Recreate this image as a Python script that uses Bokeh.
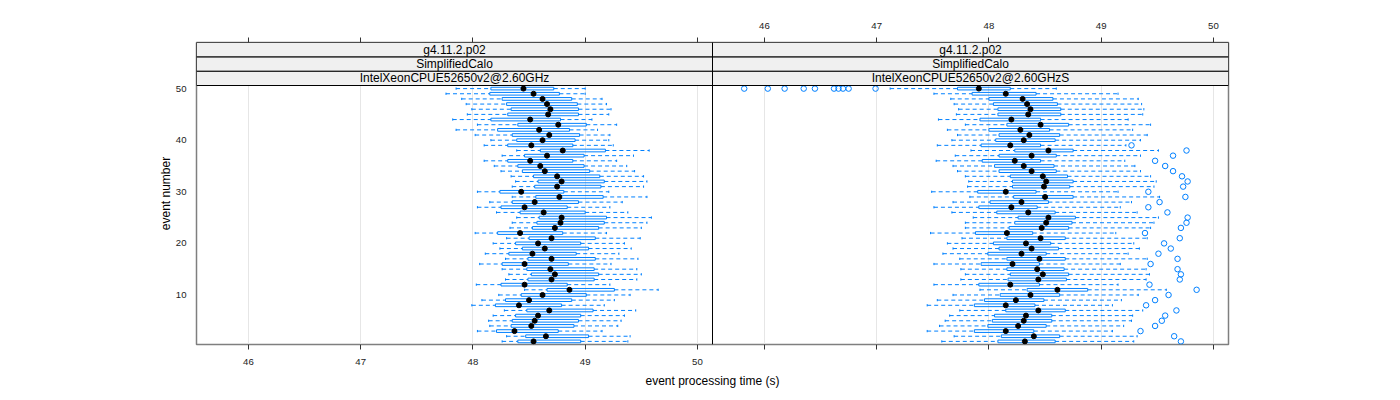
from bokeh.plotting import figure
from bokeh.models import Range1d, FixedTicker, LinearAxis, ColumnDataSource, Span, CustomJSTickFormatter
from bokeh.embed import file_html
from bokeh.resources import INLINE
from bokeh.core.properties import value

events = list(range(1, 51))
x_ticks = [46, 47, 48, 49, 50]
y_ticks = [10, 20, 30, 40, 50]
strip_top = "g4.11.2.p02"
strip_mid = "SimplifiedCalo"
panel_names = ["IntelXeonCPUE52650v2@2.60GHz", "IntelXeonCPUE52650v2@2.60GHzS"]

# ---- left panel (events 1..50) ----
L_wlo = [48.26, 48.30, 48.04, 48.15, 48.14, 48.18, 48.28, 47.99, 48.08, 48.23,
         48.46, 48.03, 48.29, 48.32, 48.26, 48.06, 48.29, 48.11, 48.24, 48.18,
         48.30, 48.02, 48.33, 48.35, 48.39, 48.21, 48.04, 48.15, 48.35, 48.04,
         48.35, 48.38, 48.34, 48.25, 48.19, 48.10, 48.26, 48.39, 48.10, 48.16,
         48.02, 47.85, 48.04, 47.82, 47.95, 47.99, 47.94, 47.90, 47.76, 47.85]
L_q1 = [48.40, 48.47, 48.21, 48.34, 48.35, 48.38, 48.48, 48.20, 48.29, 48.43,
        48.66, 48.25, 48.49, 48.52, 48.48, 48.26, 48.49, 48.32, 48.44, 48.38,
        48.50, 48.22, 48.53, 48.57, 48.59, 48.42, 48.25, 48.35, 48.56, 48.24,
        48.55, 48.58, 48.54, 48.44, 48.40, 48.31, 48.46, 48.60, 48.31, 48.39,
        48.35, 48.22, 48.40, 48.16, 48.31, 48.34, 48.30, 48.26, 48.15, 48.16]
L_med = [48.54, 48.65, 48.37, 48.52, 48.55, 48.58, 48.68, 48.41, 48.50, 48.62,
         48.86, 48.46, 48.70, 48.73, 48.69, 48.46, 48.70, 48.53, 48.64, 48.58,
         48.70, 48.42, 48.73, 48.78, 48.79, 48.63, 48.46, 48.55, 48.77, 48.43,
         48.75, 48.79, 48.75, 48.64, 48.60, 48.51, 48.66, 48.80, 48.52, 48.62,
         48.68, 48.59, 48.76, 48.51, 48.67, 48.69, 48.66, 48.62, 48.54, 48.45]
L_q3 = [48.96, 49.03, 48.76, 48.90, 48.94, 48.96, 49.07, 48.79, 48.88, 49.01,
        49.26, 48.84, 49.08, 49.12, 49.08, 48.85, 49.09, 48.92, 49.03, 48.96,
        49.09, 48.80, 49.12, 49.17, 49.19, 49.00, 48.84, 48.94, 49.16, 48.81,
        49.14, 49.17, 49.13, 49.04, 48.99, 48.89, 48.99, 49.18, 48.89, 48.91,
        48.95, 48.86, 49.01, 48.78, 48.94, 48.94, 48.93, 48.88, 48.77, 48.72]
L_whi = [49.38, 49.40, 49.15, 49.29, 49.32, 49.35, 49.45, 49.17, 49.26, 49.40,
         49.65, 49.22, 49.46, 49.50, 49.46, 49.23, 49.47, 49.30, 49.41, 49.35,
         49.49, 49.19, 49.50, 49.55, 49.59, 49.38, 49.22, 49.33, 49.55, 49.21,
         49.52, 49.55, 49.52, 49.44, 49.37, 49.28, 49.43, 49.57, 49.25, 49.21,
         49.22, 49.11, 49.28, 49.06, 49.21, 49.23, 49.19, 49.15, 49.00, 49.00]

# ---- right panel (events 1..50) ----
R_wlo = [47.58, 47.69, 47.45, 47.56, 47.61, 47.65, 47.74, 47.45, 47.54, 47.68,
         47.92, 47.51, 47.75, 47.79, 47.75, 47.51, 47.74, 47.59, 47.68, 47.63,
         47.76, 47.48, 47.79, 47.79, 47.86, 47.67, 47.51, 47.68, 47.83, 47.49,
         47.81, 47.82, 47.79, 47.72, 47.68, 47.53, 47.70, 47.84, 47.54, 47.67,
         47.72, 47.63, 47.79, 47.55, 47.71, 47.73, 47.69, 47.66, 47.51, 47.12]
R_q1 = [48.08, 48.11, 47.87, 47.99, 48.03, 48.05, 48.15, 47.87, 47.96, 48.10,
        48.34, 47.91, 48.17, 48.19, 48.16, 47.93, 48.16, 47.99, 48.09, 48.04,
        48.16, 47.88, 48.18, 48.23, 48.26, 48.07, 47.91, 48.01, 48.22, 47.90,
        48.21, 48.21, 48.19, 48.09, 48.05, 47.94, 48.09, 48.23, 47.93, 48.06,
        48.09, 48.00, 48.16, 47.92, 48.08, 48.08, 48.04, 48.00, 47.85, 47.72]
R_med = [48.32, 48.40, 48.15, 48.26, 48.31, 48.33, 48.44, 48.15, 48.24, 48.37,
         48.61, 48.19, 48.44, 48.48, 48.43, 48.21, 48.45, 48.29, 48.38, 48.33,
         48.46, 48.16, 48.47, 48.51, 48.53, 48.35, 48.20, 48.29, 48.50, 48.15,
         48.49, 48.51, 48.48, 48.38, 48.31, 48.23, 48.38, 48.53, 48.19, 48.31,
         48.36, 48.28, 48.46, 48.20, 48.35, 48.37, 48.34, 48.30, 48.15, 47.91]
R_q3 = [48.59, 48.63, 48.40, 48.51, 48.56, 48.56, 48.68, 48.41, 48.49, 48.63,
        48.88, 48.45, 48.69, 48.71, 48.67, 48.45, 48.68, 48.51, 48.62, 48.55,
        48.68, 48.39, 48.71, 48.74, 48.77, 48.59, 48.43, 48.53, 48.75, 48.42,
        48.72, 48.75, 48.70, 48.60, 48.58, 48.46, 48.60, 48.75, 48.46, 48.59,
        48.63, 48.54, 48.71, 48.46, 48.64, 48.64, 48.61, 48.57, 48.42, 48.19]
R_whi = [49.29, 49.32, 49.10, 49.20, 49.27, 49.28, 49.37, 49.10, 49.18, 49.33,
         49.58, 49.15, 49.40, 49.43, 49.40, 49.17, 49.41, 49.24, 49.34, 49.29,
         49.41, 49.13, 49.44, 49.47, 49.51, 49.32, 49.17, 49.27, 49.52, 49.15,
         49.47, 49.49, 49.44, 49.35, 49.30, 49.21, 49.35, 49.51, 49.22, 49.35,
         49.41, 49.28, 49.44, 49.24, 49.37, 49.38, 49.36, 49.33, 49.15, 48.60]
R_out_event = list(range(1, 40)) + [50] * 10
R_out_value = [49.71, 49.65, 49.35, 49.48, 49.54, 49.57, 49.67, 49.40, 49.48, 49.60,
               49.85, 49.43, 49.70, 49.71, 49.68, 49.44, 49.68, 49.51, 49.62, 49.56,
               49.70, 49.39, 49.71, 49.76, 49.77, 49.59, 49.42, 49.52, 49.75, 49.42,
               49.73, 49.77, 49.72, 49.64, 49.57, 49.48, 49.64, 49.76, 49.27,
               45.82, 46.03, 46.18, 46.35, 46.45, 46.62, 46.66, 46.70, 46.75, 46.99]

BLUE = "#0080ff"
FONT = "Liberation Sans"

# layout (pixels)
frame_left, frame_top = 196, 42
frame_h = 302
fig_h = 392
panel_px = 259
strip_px = (frame_h - panel_px) / 3.0

xmin, xmax = 45.5375, 50.134
W = xmax - xmin
ylo, yhi_panel = 0.4, 50.6
u_per_px = (yhi_panel - ylo) / panel_px
sh = strip_px * u_per_px
ytop = yhi_panel + 3 * sh

p = figure(width=frame_left + 2 * 516 + 20, height=fig_h, output_backend="svg",
           toolbar_location=None, title=None,
           x_range=Range1d(xmin, xmin + 2 * W), y_range=Range1d(ylo, ytop),
           min_border_left=frame_left, min_border_top=frame_top,
           min_border_bottom=fig_h - frame_top - frame_h, min_border_right=20,
           x_axis_label="event processing time (s)", y_axis_label="event number")
p.background_fill_color = "white"
p.border_fill_color = "white"
p.outline_line_color = "#7f7f7f"
p.outline_line_width = 1.5

all_ticks = x_ticks + [t + W for t in x_ticks]
xdiv = xmin + W

# grid
p.xgrid.ticker = FixedTicker(ticks=all_ticks)
p.xgrid.grid_line_color = "#e6e6e6"
p.ygrid.grid_line_color = None

def style_axis(ax):
    ax.axis_line_color = None
    ax.major_tick_in = 0
    ax.major_tick_out = 5
    ax.minor_tick_line_color = None
    ax.major_tick_line_color = "#333333"
    ax.major_label_text_font = FONT
    ax.major_label_text_font_size = "9.6px"
    ax.major_label_text_font_style = "normal"
    ax.major_label_text_color = "#222222"
    ax.axis_label_text_font = FONT
    ax.axis_label_text_font_size = "12px"
    ax.axis_label_text_font_style = "normal"
    ax.axis_label_text_color = "black"

xb = p.xaxis[0]
xb.ticker = FixedTicker(ticks=all_ticks)
xb.formatter = CustomJSTickFormatter(args=dict(d=xdiv),
                                     code="return tick < d ? tick.toFixed(0) : '';")
style_axis(xb)
xb.major_label_standoff = 9
xb.axis_label_standoff = 6

xt = LinearAxis(ticker=FixedTicker(ticks=all_ticks),
                formatter=CustomJSTickFormatter(args=dict(d=xdiv, w=W),
                                                code="return tick > d ? (tick - w).toFixed(0) : '';"))
style_axis(xt)
xt.major_label_standoff = 9
p.add_layout(xt, "above")

yl = p.yaxis[0]
yl.ticker = FixedTicker(ticks=y_ticks)
style_axis(yl)
yl.major_tick_out = 0
yl.major_tick_line_color = None
yl.major_label_standoff = 10
yl.axis_label_standoff = 0

def draw_panel(off, wlo, q1, med, q3, whi):
    src = ColumnDataSource(dict(
        y=events,
        ylo=[e - 0.26 for e in events], yhi=[e + 0.26 for e in events],
        clo=[e - 0.22 for e in events], chi=[e + 0.22 for e in events],
        wlo=[v + off for v in wlo], q1=[v + off for v in q1], med=[v + off for v in med],
        q3=[v + off for v in q3], whi=[v + off for v in whi]))
    p.segment(x0="wlo", y0="y", x1="q1", y1="y", source=src, line_color=BLUE,
              line_dash="4 3", line_width=1)
    p.segment(x0="q3", y0="y", x1="whi", y1="y", source=src, line_color=BLUE,
              line_dash="4 3", line_width=1)
    p.segment(x0="wlo", y0="clo", x1="wlo", y1="chi", source=src, line_color=BLUE, line_width=1)
    p.segment(x0="whi", y0="clo", x1="whi", y1="chi", source=src, line_color=BLUE, line_width=1)
    p.quad(left="q1", right="q3", bottom="ylo", top="yhi", source=src,
           fill_color=None, line_color=BLUE, line_width=1)
    p.scatter(x="med", y="y", source=src, size=5, fill_color="black", line_color="black")

draw_panel(0.0, L_wlo, L_q1, L_med, L_q3, L_whi)
draw_panel(W, R_wlo, R_q1, R_med, R_q3, R_whi)

p.scatter(x=[v + W for v in R_out_value], y=R_out_event, size=5.5, marker="circle",
          fill_color=None, line_color=BLUE, line_width=1)

# strips
for i, name in enumerate(panel_names):
    left = xmin + i * W
    right = left + W
    labels = [name, strip_mid, strip_top]
    bots = [yhi_panel + k * sh for k in range(3)]
    p.quad(left=[left] * 3, right=[right] * 3, bottom=bots, top=[b + sh for b in bots],
           fill_color="#f0f0f0", line_color="black", line_width=1)
    p.text(x=[(left + right) / 2] * 3, y=[b + sh / 2 for b in bots], text=labels,
           text_font=value(FONT), text_font_size="12px", text_align="center",
           text_baseline="middle", text_color="black")

p.add_layout(Span(location=xdiv, dimension="height", line_color="black", line_width=1))

open("out.html", "w").write(file_html(p, INLINE))
